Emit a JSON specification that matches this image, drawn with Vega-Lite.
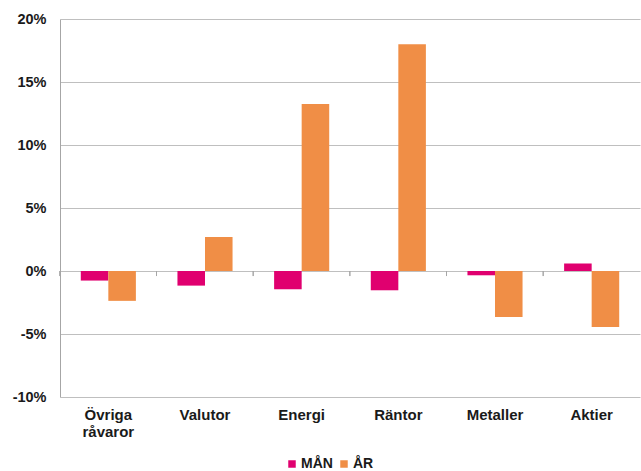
{
  "$schema": "https://vega.github.io/schema/vega-lite/v6.json",
  "width": 580,
  "height": 378,
  "autosize": "none",
  "padding": {"left": 60, "top": 19, "right": 1, "bottom": 74},
  "background": "white",
  "config": {"view": {"stroke": null}, "font": "Liberation Sans"},
  "data": {
    "values": [
      {"kategori": "Övriga råvaror", "serie": "MÅN", "varde": -0.0076},
      {"kategori": "Övriga råvaror", "serie": "ÅR", "varde": -0.0237},
      {"kategori": "Valutor", "serie": "MÅN", "varde": -0.0116},
      {"kategori": "Valutor", "serie": "ÅR", "varde": 0.027},
      {"kategori": "Energi", "serie": "MÅN", "varde": -0.0145},
      {"kategori": "Energi", "serie": "ÅR", "varde": 0.1325},
      {"kategori": "Räntor", "serie": "MÅN", "varde": -0.0153},
      {"kategori": "Räntor", "serie": "ÅR", "varde": 0.18},
      {"kategori": "Metaller", "serie": "MÅN", "varde": -0.0034},
      {"kategori": "Metaller", "serie": "ÅR", "varde": -0.0366},
      {"kategori": "Aktier", "serie": "MÅN", "varde": 0.006},
      {"kategori": "Aktier", "serie": "ÅR", "varde": -0.0445}
    ]
  },
  "layer": [
    {
      "mark": {"type": "bar"},
      "encoding": {
        "x": {
          "field": "kategori",
          "type": "nominal",
          "sort": ["Övriga råvaror", "Valutor", "Energi", "Räntor", "Metaller", "Aktier"],
          "scale": {"paddingInner": 0.43, "paddingOuter": 0.215},
          "axis": {
            "title": null,
            "labelAngle": 0,
            "domain": false,
            "ticks": false,
            "labelFont": "Liberation Sans",
            "labelFontWeight": "bold",
            "labelFontSize": 15,
            "labelColor": "#1a1a1a",
            "labelPadding": 10,
            "labelLineHeight": 17,
            "labelExpr": "split(datum.label, ' ')"
          }
        },
        "xOffset": {"field": "serie", "sort": ["MÅN", "ÅR"]},
        "y": {
          "field": "varde",
          "type": "quantitative",
          "scale": {"domain": [-0.1, 0.2], "nice": false},
          "axis": {
            "title": null,
            "format": ".0%",
            "labelExpr": "replace(format(datum.value, '.0%'), '−', '-')",
            "values": [-0.1, -0.05, 0, 0.05, 0.1, 0.15, 0.2],
            "grid": true,
            "gridColor": "#BFBFBF",
            "gridWidth": 1.2,
            "domainColor": "#A6A6A6",
            "ticks": false,
            "labelPadding": 14,
            "labelFont": "Liberation Sans",
            "labelFontWeight": "bold",
            "labelFontSize": 14.5,
            "labelColor": "#1a1a1a"
          }
        },
        "color": {
          "field": "serie",
          "type": "nominal",
          "scale": {"domain": ["MÅN", "ÅR"], "range": ["#E0006F", "#F08E46"]},
          "legend": {
            "orient": "none",
            "legendX": 225,
            "legendY": 438,
            "padding": 0,
            "direction": "horizontal",
            "title": null,
            "symbolType": "square",
            "symbolSize": 56,
            "symbolStrokeWidth": 0,
            "labelFont": "Liberation Sans",
            "labelFontWeight": "bold",
            "labelFontSize": 14,
            "labelColor": "#1a1a1a",
            "labelOffset": 2,
            "columnPadding": 4
          }
        }
      }
    },
    {
      "mark": {"type": "rule", "color": "#A6A6A6", "strokeWidth": 1},
      "encoding": {
        "x": {
          "field": "kategori",
          "type": "nominal",
          "sort": ["Övriga råvaror", "Valutor", "Energi", "Räntor", "Metaller", "Aktier"],
          "bandPosition": -0.38
        },
        "y": {"datum": 0},
        "y2": {"datum": -0.004}
      }
    }
  ]
}
